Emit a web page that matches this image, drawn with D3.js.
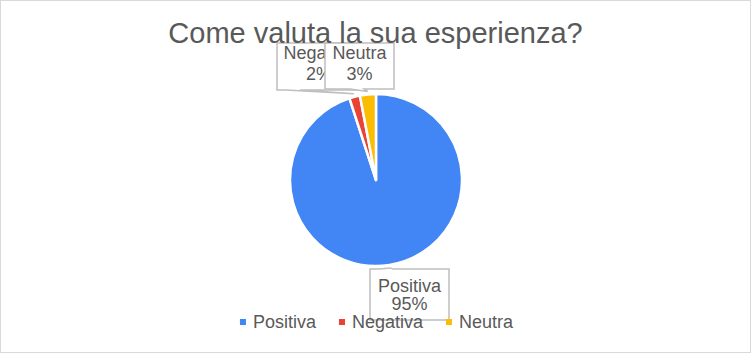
<!DOCTYPE html>
<html>
<head>
<meta charset="utf-8">
<script src="https://cdn.jsdelivr.net/npm/d3@7"></script>
<style>
  body { margin: 0; background: #fff; }
  text { font-family: "Liberation Sans", Arial, sans-serif; fill: #595959; }
</style>
</head>
<body>
<div id="chart"></div>
<script>
(function(){
var categories = ["Positiva", "Negativa", "Neutra"];
var values = [95, 2, 3];
var percentLabels = ["95%", "2%", "3%"];
var chartTitle = "Come valuta la sua esperienza?";

var width = 751, height = 353;
var colors = d3.scaleOrdinal().domain(categories).range(["#4285F4", "#EA4335", "#FBBC04"]);

var svg = d3.select("#chart")
    .append("svg")
    .attr("width", width)
    .attr("height", height);

svg.append("rect")
    .attr("x", 0.5).attr("y", 0.5)
    .attr("width", width - 1).attr("height", height - 1)
    .attr("fill", "#fff")
    .attr("stroke", "#d9d9d9");

var cx = 376, cy = 180, r = 86;
var pie = d3.pie().sort(null).value(function(d){ return d; });
var arc = d3.arc().innerRadius(0).outerRadius(r);
var arcs = pie(values);

var g = svg.append("g").attr("transform", "translate(" + cx + "," + cy + ")");
g.selectAll(".slice")
    .data(arcs)
    .enter().append("path")
    .attr("class", "slice")
    .attr("d", arc)
    .attr("fill", function(d, i){ return colors(categories[i]); })
    .attr("stroke", "#fff")
    .attr("stroke-width", 2.5)
    .attr("stroke-linejoin", "round");

// callout boxes (page coords), wedge on the side facing the slice
var callouts = [
  {box: [370, 269, 449, 320], side: "top", base: [380, 393], lines: [23, 41]},
  {box: [277, 43, 361, 90], side: "bottom", base: [286, 300], lines: [16, 37]},
  {box: [325, 43, 394, 89], side: "bottom", base: [350, 364], lines: [16, 37]}
];

function apexOf(d){
  var a = (d.startAngle + d.endAngle) / 2;
  return [cx + Math.sin(a) * (r + 3), cy - Math.cos(a) * (r + 3)];
}

function calloutPath(c, apex){
  var x0 = c.box[0], y0 = c.box[1], x1 = c.box[2], y1 = c.box[3];
  var b0 = c.base[0], b1 = c.base[1];
  if (c.side === "top") {
    return "M" + x0 + "," + y0 + "H" + b0 + "L" + apex[0] + "," + apex[1] +
      "L" + b1 + "," + y0 + "H" + x1 + "V" + y1 + "H" + x0 + "Z";
  }
  return "M" + x0 + "," + y0 + "H" + x1 + "V" + y1 + "H" + b1 +
    "L" + apex[0] + "," + apex[1] + "L" + b0 + "," + y1 + "H" + x0 + "Z";
}

arcs.forEach(function(d, i){
  var c = callouts[i];
  var apex = apexOf(d);
  var lg = svg.append("g");
  lg.append("path")
    .attr("d", calloutPath(c, apex))
    .attr("fill", "#fff")
    .attr("stroke", "#bfbfbf")
    .attr("stroke-width", 1.5);
  var mx = (c.box[0] + c.box[2]) / 2;
  lg.append("text")
    .attr("x", mx).attr("y", c.box[1] + c.lines[0])
    .attr("text-anchor", "middle")
    .style("font-size", "18px")
    .text(categories[i]);
  lg.append("text")
    .attr("x", mx).attr("y", c.box[1] + c.lines[1])
    .attr("text-anchor", "middle")
    .style("font-size", "18px")
    .text(percentLabels[i]);
});

svg.append("text")
    .attr("x", width / 2)
    .attr("y", 43)
    .attr("text-anchor", "middle")
    .style("font-size", "29px")
    .text(chartTitle);

// legend, laid out from the measured label widths
var leg = svg.selectAll(".legend")
    .data(categories)
    .enter().append("g")
    .attr("class", "legend");
leg.append("rect")
    .attr("x", 0).attr("y", -4)
    .attr("width", 6).attr("height", 6)
    .attr("fill", function(d){ return colors(d); });
leg.append("text")
    .attr("x", 13).attr("y", 5)
    .style("font-size", "18px")
    .text(function(d){ return d; });

var widths = [];
leg.select("text").each(function(){ widths.push(13 + this.getComputedTextLength()); });
var gap = 23;
var total = d3.sum(widths) + gap * (widths.length - 1);
var x = (width - total) / 2 + 1;
leg.attr("transform", function(d, i){
  var t = "translate(" + x + ",323)";
  x += widths[i] + gap;
  return t;
});
})();
</script>
</body>
</html>
